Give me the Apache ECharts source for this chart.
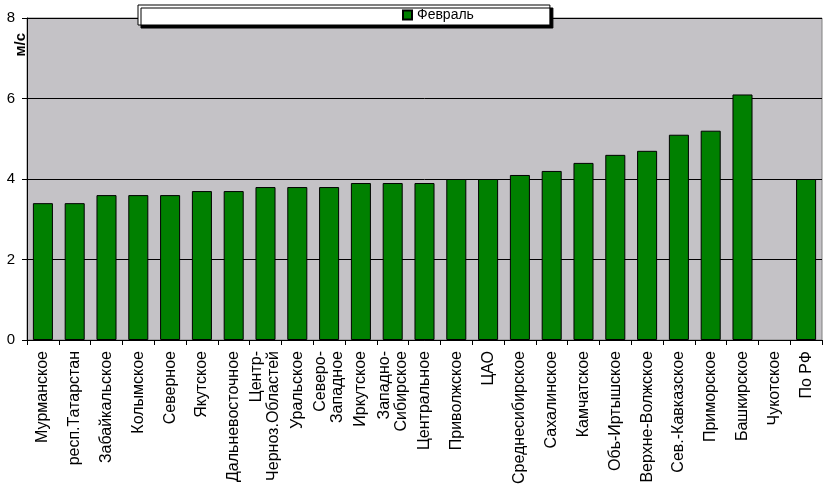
<!DOCTYPE html>
<html>
<head>
<meta charset="utf-8">
<script src="https://cdn.jsdelivr.net/npm/echarts@6/dist/echarts.min.js"></script>
<style>html,body{margin:0;padding:0;background:#fff}#c{width:827px;height:492px}</style>
</head>
<body>
<div id="c"></div>
<script>
const categories = ["Мурманское","респ.Татарстан","Забайкальское","Колымское","Северное","Якутское","Дальневосточное","Центр-\nЧерноз.Областей","Уральское","Северо-\nЗападное","Иркутское","Западно-\nСибирское","Центральное","Приволжское","ЦАО","Среднесибирское","Сахалинское","Камчатское","Обь-Иртышское","Верхне-Волжское","Сев.-Кавказское","Приморское","Башкирское","Чукотское","По РФ"];
const february = [3.4,3.4,3.6,3.6,3.6,3.7,3.7,3.8,3.8,3.8,3.9,3.9,3.9,4.0,4.0,4.1,4.2,4.4,4.6,4.7,5.1,5.2,6.1,null,4.0];
const seriesName = "Февраль";
const unitLabel = "м/с";
const yTicks = [0,2,4,6,8];

const chart = echarts.init(document.getElementById('c'), null, {renderer:'canvas'});
const font = "Liberation Sans, Arial, sans-serif";
chart.setOption({
  animation:false,
  backgroundColor:'#ffffff',
  textStyle:{fontFamily:font},
  legend:{
    data:[seriesName],
    left:138, top:5,
    padding:[3,76,3,264],
    backgroundColor:'#ffffff',
    borderColor:'#000000', borderWidth:1,
    shadowColor:'#000000', shadowBlur:0, shadowOffsetX:3, shadowOffsetY:3,
    itemWidth:9, itemHeight:9, itemGap:5,
    textStyle:{fontFamily:font, fontSize:14, color:'#000', padding:[0,0,0,0]},
    icon:'rect'
  },
  grid:{left:27, right:5, top:18, bottom:152, show:true, backgroundColor:'#c4c2c6', borderColor:'#808080', borderWidth:1},
  graphic:[{type:'text', left:13, top:33, rotation:Math.PI/2, style:{text:unitLabel, font:'bold 15px '+font, fill:'#000'}}],
  xAxis:{
    type:'category', data:categories,
    axisLine:{lineStyle:{color:'#000'}},
    axisTick:{show:true, length:5, lineStyle:{color:'#000'}},
    axisLabel:{rotate:90, margin:11, fontSize:16, color:'#000', fontFamily:font, interval:0, lineHeight:17}
  },
  yAxis:{
    type:'value', min:yTicks[0], max:yTicks[yTicks.length-1], interval:2,
    axisLine:{show:true, lineStyle:{color:'#000'}},
    axisTick:{show:true, length:5, inside:false, lineStyle:{color:'#000'}},
    axisLabel:{fontSize:15, color:'#000', margin:12, fontFamily:font},
    splitLine:{show:true, lineStyle:{color:'#000', width:1}}
  },
  series:[{
    name:seriesName, type:'bar', data:february, barCategoryGap:'37%',
    itemStyle:{color:'#008000', borderColor:'#000', borderWidth:1}
  }]
});
</script>
</body>
</html>
